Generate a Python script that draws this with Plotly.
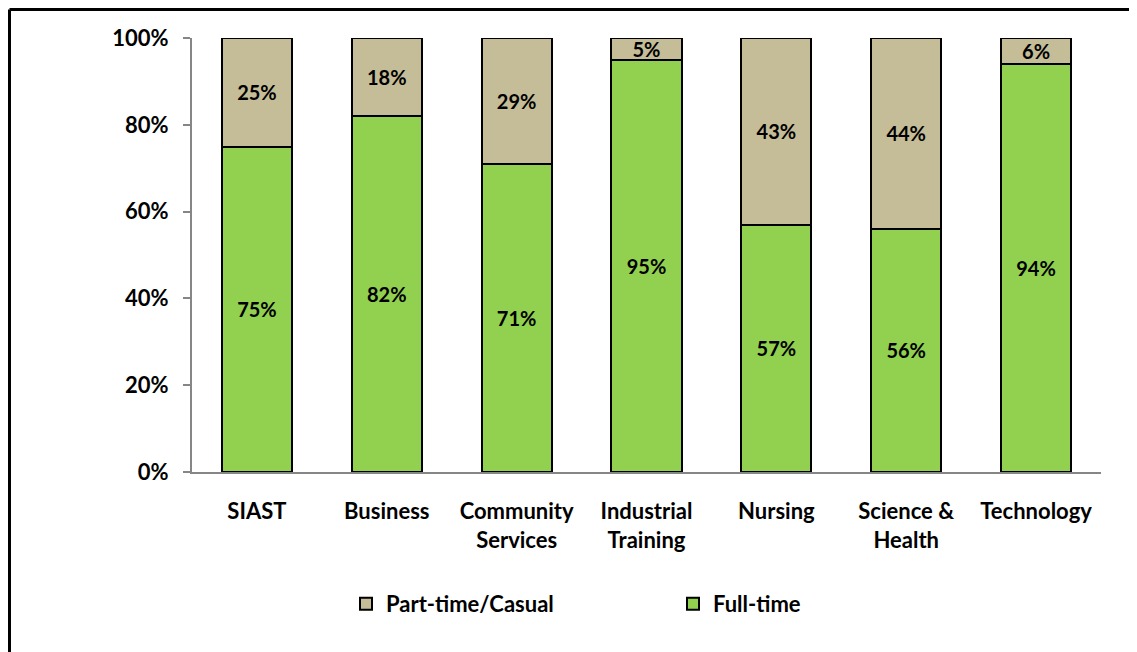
import plotly.graph_objects as go

categories = ["SIAST", "Business", "Community<br>Services", "Industrial<br>Training",
              "Nursing", "Science &<br>Health", "Technology"]
full_time = [75, 82, 71, 95, 57, 56, 94]
part_time = [25, 18, 29, 5, 43, 44, 6]
y_ticks = [0, 20, 40, 60, 80, 100]
y_tick_labels = [f"{v}%" for v in y_ticks]

FONT = "Lato"
GREEN = "#92D050"
TAN = "#C4BD97"

# page body has an 8px offset; plot area target (screen): x 192..1101, y 38..472
OFF = 8
W, H = 1137, 652
X0, X1, Y0, Y1 = 192, 1101, 38, 472
L, R, T, B = X0 - OFF, W + OFF - X1, Y0 - OFF, H + OFF - Y1
PW, PH = X1 - X0, Y1 - Y0


def px(sx):
    return (sx - X0) / PW


def py(sy):
    return (Y1 - sy) / PH


fig = go.Figure()
fig.add_trace(go.Bar(
    name="Full-time", x=categories, y=full_time,
    marker=dict(color=GREEN, line=dict(color="#000000", width=2)),
    text=[f"{v}%" for v in full_time], textposition="inside",
    insidetextanchor="middle", constraintext="none",
    insidetextfont=dict(family=FONT, size=20, color="#000000", weight="bold"),
    width=0.54,
))
fig.add_trace(go.Bar(
    name="Part-time/Casual", x=categories, y=part_time,
    marker=dict(color=TAN, line=dict(color="#000000", width=2)),
    text=[f"{v}%" for v in part_time], textposition="inside",
    insidetextanchor="middle", constraintext="none",
    insidetextfont=dict(family=FONT, size=20, color="#000000", weight="bold"),
    width=0.54,
))

border = dict(color="#000000", width=3)
fig.update_layout(
    barmode="stack",
    width=W, height=H,
    margin=dict(l=L, r=R, t=T, b=B),
    paper_bgcolor="white", plot_bgcolor="white",
    font=dict(family=FONT, size=22, color="#000000", weight="bold"),
    showlegend=True,
    legend=dict(
        orientation="h", traceorder="reversed",
        x=px(346), xanchor="left", y=py(604), yanchor="middle",
        entrywidth=282, entrywidthmode="pixels",
        font=dict(family=FONT, size=22, color="#000000", weight="bold"),
        bgcolor="rgba(0,0,0,0)",
    ),
    xaxis=dict(
        range=[-0.5, 6.5], showline=True, linecolor="#868686", linewidth=2,
        ticks="", showgrid=False, tickangle=0,
        tickfont=dict(family=FONT, size=22, color="#000000", weight="bold"),
        ticklabelstandoff=19,
    ),
    yaxis=dict(
        range=[0, 100], tickvals=y_ticks, ticktext=y_tick_labels,
        showline=True, linecolor="#868686", linewidth=2,
        ticks="outside", ticklen=7, tickcolor="#868686", tickwidth=2,
        showgrid=False, zeroline=False,
        tickfont=dict(family=FONT, size=22, color="#000000", weight="bold"),
        ticklabelstandoff=10,
    ),
    shapes=[
        dict(type="line", xref="paper", yref="paper",
             x0=px(9.5), x1=px(1145), y0=py(9.5), y1=py(9.5), line=border),
        dict(type="line", xref="paper", yref="paper",
             x0=px(9.5), x1=px(9.5), y0=py(9.5), y1=py(665), line=border),
    ],
)

fig.write_html("out.html")
